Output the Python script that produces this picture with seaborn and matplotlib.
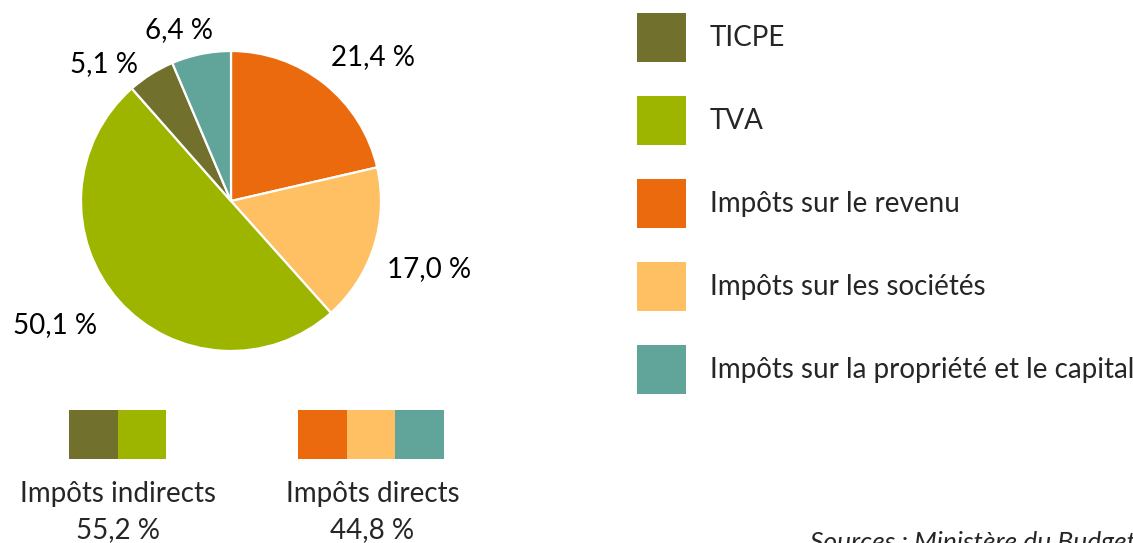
import matplotlib
matplotlib.use("Agg")
import matplotlib.pyplot as plt
from matplotlib.patches import Patch, Rectangle
import seaborn as sns

# Données (en % des recettes fiscales)
categories = ["Impôts sur le revenu", "Impôts sur les sociétés", "TVA",
              "TICPE", "Impôts sur la propriété et le capital"]
parts = [21.4, 17.0, 50.1, 5.1, 6.4]
couleurs = ["#EB6A0D", "#FFC064", "#9EB500", "#71702D", "#60A49A"]

ordre_legende = ["TICPE", "TVA", "Impôts sur le revenu",
                 "Impôts sur les sociétés", "Impôts sur la propriété et le capital"]
indirects = ["TICPE", "TVA"]
directs = ["Impôts sur le revenu", "Impôts sur les sociétés",
           "Impôts sur la propriété et le capital"]

sns.set_theme(style="white")
plt.rcParams['font.family'] = ['Lato', 'DejaVu Sans']
FS = 20
FPX = FS * 100 / 72  # taille de police en pixels

W, H = 1133, 543
fig = plt.figure(figsize=(W / 100, H / 100), dpi=100)
ax = fig.add_axes([0, 0, 1, 1])

palette = dict(zip(categories, couleurs))
valeurs = dict(zip(categories, parts))

def fmt(v):
    return f"{v:.1f} %".replace(".", ",")

# Camembert (coordonnées en pixels, origine en bas à gauche)
cx, cy, r = 231, H - 201, 150
ax.pie(parts, colors=couleurs, startangle=90, counterclock=False,
       center=(cx, cy), radius=r,
       wedgeprops=dict(edgecolor="white", linewidth=1.6))
ax.set_xlim(0, W)
ax.set_ylim(0, H)
ax.set_aspect("equal")
ax.axis("off")

# Étiquettes des parts
pos_labels = {
    "Impôts sur le revenu": (373, 478),
    "Impôts sur les sociétés": (429, 266),
    "TVA": (55, 210),
    "TICPE": (104, 471),
    "Impôts sur la propriété et le capital": (179, 505),
}
for cat, (x, y) in pos_labels.items():
    ax.text(x, y, fmt(valeurs[cat]), ha="center", va="baseline", fontsize=FS, color="black")

# Légende : carrés de 49 px, pas de 83 px
carre = 49
hh = (carre / FPX - 0.245) / 0.65
handles = [Patch(facecolor=palette[c], edgecolor="none", label=c) for c in ordre_legende]
ax.legend(handles=handles, loc="upper left",
          bbox_to_anchor=(637, H - 13),
          bbox_transform=ax.transData, frameon=False, fontsize=FS,
          borderpad=0, borderaxespad=0,
          handlelength=carre / FPX, handleheight=hh,
          labelspacing=34 / FPX, handletextpad=24 / FPX)

# Groupes impôts indirects / directs
def groupe(cats, x0, xc, titre):
    for i, c in enumerate(cats):
        ax.add_patch(Rectangle((x0 + i * 48.5, H - 459), 48.5, 49,
                               facecolor=palette[c], edgecolor="none"))
    total = sum(valeurs[c] for c in cats)
    ax.text(xc, 41, titre, ha="center", va="baseline", fontsize=FS)
    ax.text(xc, 5, fmt(total), ha="center", va="baseline", fontsize=FS)

groupe(indirects, 69, 117.5, "Impôts indirects")
groupe(directs, 298, 372.5, "Impôts directs")

# Source (coupée par le bord, comme dans l'original)
ax.text(810, -7, "Sources : Ministère du Budget", ha="left", va="baseline",
        fontsize=19, style="italic")

fig.savefig("out.png", dpi=100)
